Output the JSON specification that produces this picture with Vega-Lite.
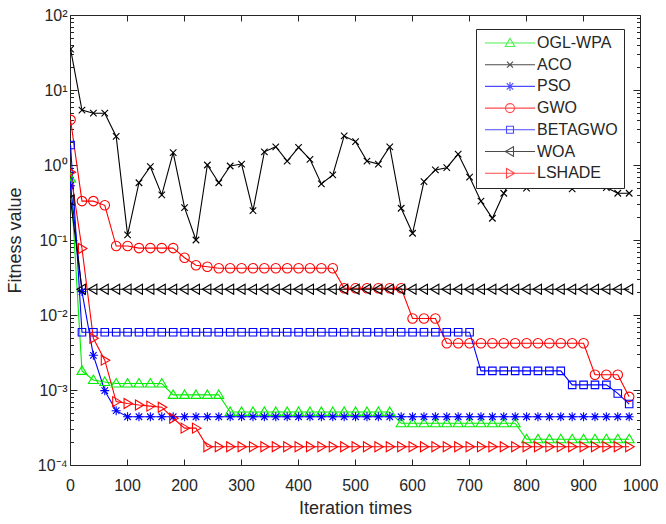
{
  "$schema": "https://vega.github.io/schema/vega-lite/v6.json",
  "width": 570,
  "height": 450,
  "autosize": "none",
  "padding": {"left": 70, "top": 15, "right": 26, "bottom": 59},
  "background": "white",
  "config": {
    "view": {"stroke": "#262626", "strokeWidth": 1},
    "font": "Liberation Sans",
    "axis": {"domain": false, "grid": false, "labelFont": "Liberation Sans", "labelFontSize": 16, "labelColor": "#262626", "tickColor": "#262626", "tickWidth": 1, "titleFont": "Liberation Sans", "titleFontSize": 18, "titleFontWeight": "normal", "titleColor": "#262626"}
  },
  "datasets": {
    "c": [
      {"s":"OGL-WPA","i":1,"v":0.66},{"s":"OGL-WPA","i":21,"v":0.0018},{"s":"OGL-WPA","i":41,"v":0.00136},{"s":"OGL-WPA","i":61,"v":0.00128},{"s":"OGL-WPA","i":81,"v":0.00122},{"s":"OGL-WPA","i":101,"v":0.00122},{"s":"OGL-WPA","i":121,"v":0.00122},{"s":"OGL-WPA","i":141,"v":0.00122},{"s":"OGL-WPA","i":161,"v":0.00122},{"s":"OGL-WPA","i":181,"v":0.00086},{"s":"OGL-WPA","i":201,"v":0.00086},{"s":"OGL-WPA","i":221,"v":0.00086},{"s":"OGL-WPA","i":241,"v":0.00086},{"s":"OGL-WPA","i":261,"v":0.00086},{"s":"OGL-WPA","i":281,"v":0.00051},{"s":"OGL-WPA","i":301,"v":0.00051},{"s":"OGL-WPA","i":321,"v":0.00051},{"s":"OGL-WPA","i":341,"v":0.00051},{"s":"OGL-WPA","i":361,"v":0.00051},{"s":"OGL-WPA","i":381,"v":0.00051},{"s":"OGL-WPA","i":401,"v":0.00051},{"s":"OGL-WPA","i":421,"v":0.00051},{"s":"OGL-WPA","i":441,"v":0.00051},{"s":"OGL-WPA","i":461,"v":0.00051},{"s":"OGL-WPA","i":481,"v":0.00051},{"s":"OGL-WPA","i":501,"v":0.00051},{"s":"OGL-WPA","i":521,"v":0.00051},{"s":"OGL-WPA","i":541,"v":0.00051},{"s":"OGL-WPA","i":561,"v":0.00051},{"s":"OGL-WPA","i":581,"v":0.00036},{"s":"OGL-WPA","i":601,"v":0.00036},{"s":"OGL-WPA","i":621,"v":0.00036},{"s":"OGL-WPA","i":641,"v":0.00036},{"s":"OGL-WPA","i":661,"v":0.00036},{"s":"OGL-WPA","i":681,"v":0.00036},{"s":"OGL-WPA","i":701,"v":0.00036},{"s":"OGL-WPA","i":721,"v":0.00036},{"s":"OGL-WPA","i":741,"v":0.00036},{"s":"OGL-WPA","i":761,"v":0.00036},{"s":"OGL-WPA","i":781,"v":0.00036},{"s":"OGL-WPA","i":801,"v":0.00022},{"s":"OGL-WPA","i":821,"v":0.00022},{"s":"OGL-WPA","i":841,"v":0.00022},{"s":"OGL-WPA","i":861,"v":0.00022},{"s":"OGL-WPA","i":881,"v":0.00022},{"s":"OGL-WPA","i":901,"v":0.00022},{"s":"OGL-WPA","i":921,"v":0.00022},{"s":"OGL-WPA","i":941,"v":0.00022},{"s":"OGL-WPA","i":961,"v":0.00022},{"s":"OGL-WPA","i":981,"v":0.00022},
      {"s":"ACO","i":1,"v":35},{"s":"ACO","i":21,"v":5.4},{"s":"ACO","i":41,"v":4.9},{"s":"ACO","i":61,"v":4.9},{"s":"ACO","i":81,"v":2.4},{"s":"ACO","i":101,"v":0.117},{"s":"ACO","i":121,"v":0.58},{"s":"ACO","i":141,"v":0.95},{"s":"ACO","i":161,"v":0.4},{"s":"ACO","i":181,"v":1.46},{"s":"ACO","i":201,"v":0.27},{"s":"ACO","i":221,"v":0.1},{"s":"ACO","i":241,"v":1.0},{"s":"ACO","i":261,"v":0.58},{"s":"ACO","i":281,"v":0.97},{"s":"ACO","i":301,"v":1.03},{"s":"ACO","i":321,"v":0.246},{"s":"ACO","i":341,"v":1.5},{"s":"ACO","i":361,"v":1.75},{"s":"ACO","i":381,"v":1.13},{"s":"ACO","i":401,"v":1.72},{"s":"ACO","i":421,"v":1.19},{"s":"ACO","i":441,"v":0.56},{"s":"ACO","i":461,"v":0.74},{"s":"ACO","i":481,"v":2.44},{"s":"ACO","i":501,"v":2.05},{"s":"ACO","i":521,"v":1.13},{"s":"ACO","i":541,"v":1.03},{"s":"ACO","i":561,"v":1.75},{"s":"ACO","i":581,"v":0.265},{"s":"ACO","i":601,"v":0.123},{"s":"ACO","i":621,"v":0.6},{"s":"ACO","i":641,"v":0.86},{"s":"ACO","i":661,"v":0.92},{"s":"ACO","i":681,"v":1.4},{"s":"ACO","i":701,"v":0.69},{"s":"ACO","i":721,"v":0.33},{"s":"ACO","i":741,"v":0.195},{"s":"ACO","i":761,"v":0.42},{"s":"ACO","i":781,"v":0.8},{"s":"ACO","i":801,"v":0.49},{"s":"ACO","i":821,"v":0.9},{"s":"ACO","i":841,"v":0.75},{"s":"ACO","i":861,"v":1.1},{"s":"ACO","i":881,"v":0.48},{"s":"ACO","i":901,"v":0.8},{"s":"ACO","i":921,"v":0.7},{"s":"ACO","i":941,"v":0.5},{"s":"ACO","i":961,"v":0.42},{"s":"ACO","i":981,"v":0.42},
      {"s":"PSO","i":1,"v":0.53},{"s":"PSO","i":21,"v":0.0205},{"s":"PSO","i":41,"v":0.0029},{"s":"PSO","i":61,"v":0.00098},{"s":"PSO","i":81,"v":0.00053},{"s":"PSO","i":101,"v":0.00044},{"s":"PSO","i":121,"v":0.00044},{"s":"PSO","i":141,"v":0.00044},{"s":"PSO","i":161,"v":0.00044},{"s":"PSO","i":181,"v":0.00044},{"s":"PSO","i":201,"v":0.00044},{"s":"PSO","i":221,"v":0.00044},{"s":"PSO","i":241,"v":0.00044},{"s":"PSO","i":261,"v":0.00044},{"s":"PSO","i":281,"v":0.00044},{"s":"PSO","i":301,"v":0.00044},{"s":"PSO","i":321,"v":0.00044},{"s":"PSO","i":341,"v":0.00044},{"s":"PSO","i":361,"v":0.00044},{"s":"PSO","i":381,"v":0.00044},{"s":"PSO","i":401,"v":0.00044},{"s":"PSO","i":421,"v":0.00044},{"s":"PSO","i":441,"v":0.00044},{"s":"PSO","i":461,"v":0.00044},{"s":"PSO","i":481,"v":0.00044},{"s":"PSO","i":501,"v":0.00044},{"s":"PSO","i":521,"v":0.00044},{"s":"PSO","i":541,"v":0.00044},{"s":"PSO","i":561,"v":0.00044},{"s":"PSO","i":581,"v":0.00044},{"s":"PSO","i":601,"v":0.00044},{"s":"PSO","i":621,"v":0.00044},{"s":"PSO","i":641,"v":0.00044},{"s":"PSO","i":661,"v":0.00044},{"s":"PSO","i":681,"v":0.00044},{"s":"PSO","i":701,"v":0.00044},{"s":"PSO","i":721,"v":0.00044},{"s":"PSO","i":741,"v":0.00044},{"s":"PSO","i":761,"v":0.00044},{"s":"PSO","i":781,"v":0.00044},{"s":"PSO","i":801,"v":0.00044},{"s":"PSO","i":821,"v":0.00044},{"s":"PSO","i":841,"v":0.00044},{"s":"PSO","i":861,"v":0.00044},{"s":"PSO","i":881,"v":0.00044},{"s":"PSO","i":901,"v":0.00044},{"s":"PSO","i":921,"v":0.00044},{"s":"PSO","i":941,"v":0.00044},{"s":"PSO","i":961,"v":0.00044},{"s":"PSO","i":981,"v":0.00044},
      {"s":"GWO","i":1,"v":4.0},{"s":"GWO","i":21,"v":0.33},{"s":"GWO","i":41,"v":0.33},{"s":"GWO","i":61,"v":0.29},{"s":"GWO","i":81,"v":0.083},{"s":"GWO","i":101,"v":0.083},{"s":"GWO","i":121,"v":0.078},{"s":"GWO","i":141,"v":0.078},{"s":"GWO","i":161,"v":0.078},{"s":"GWO","i":181,"v":0.078},{"s":"GWO","i":201,"v":0.058},{"s":"GWO","i":221,"v":0.046},{"s":"GWO","i":241,"v":0.044},{"s":"GWO","i":261,"v":0.042},{"s":"GWO","i":281,"v":0.042},{"s":"GWO","i":301,"v":0.042},{"s":"GWO","i":321,"v":0.042},{"s":"GWO","i":341,"v":0.042},{"s":"GWO","i":361,"v":0.042},{"s":"GWO","i":381,"v":0.042},{"s":"GWO","i":401,"v":0.042},{"s":"GWO","i":421,"v":0.042},{"s":"GWO","i":441,"v":0.042},{"s":"GWO","i":461,"v":0.042},{"s":"GWO","i":481,"v":0.0227},{"s":"GWO","i":501,"v":0.0227},{"s":"GWO","i":521,"v":0.0227},{"s":"GWO","i":541,"v":0.0227},{"s":"GWO","i":561,"v":0.0227},{"s":"GWO","i":581,"v":0.0227},{"s":"GWO","i":601,"v":0.009},{"s":"GWO","i":621,"v":0.009},{"s":"GWO","i":641,"v":0.009},{"s":"GWO","i":661,"v":0.0042},{"s":"GWO","i":681,"v":0.0042},{"s":"GWO","i":701,"v":0.0042},{"s":"GWO","i":721,"v":0.0042},{"s":"GWO","i":741,"v":0.0042},{"s":"GWO","i":761,"v":0.0042},{"s":"GWO","i":781,"v":0.0042},{"s":"GWO","i":801,"v":0.0042},{"s":"GWO","i":821,"v":0.0042},{"s":"GWO","i":841,"v":0.0042},{"s":"GWO","i":861,"v":0.0042},{"s":"GWO","i":881,"v":0.0042},{"s":"GWO","i":901,"v":0.0042},{"s":"GWO","i":921,"v":0.0016},{"s":"GWO","i":941,"v":0.0016},{"s":"GWO","i":961,"v":0.0016},{"s":"GWO","i":981,"v":0.00081},
      {"s":"BETAGWO","i":1,"v":1.85},{"s":"BETAGWO","i":21,"v":0.0059},{"s":"BETAGWO","i":41,"v":0.0059},{"s":"BETAGWO","i":61,"v":0.0059},{"s":"BETAGWO","i":81,"v":0.0059},{"s":"BETAGWO","i":101,"v":0.0059},{"s":"BETAGWO","i":121,"v":0.0059},{"s":"BETAGWO","i":141,"v":0.0059},{"s":"BETAGWO","i":161,"v":0.0059},{"s":"BETAGWO","i":181,"v":0.0059},{"s":"BETAGWO","i":201,"v":0.0059},{"s":"BETAGWO","i":221,"v":0.0059},{"s":"BETAGWO","i":241,"v":0.0059},{"s":"BETAGWO","i":261,"v":0.0059},{"s":"BETAGWO","i":281,"v":0.0059},{"s":"BETAGWO","i":301,"v":0.0059},{"s":"BETAGWO","i":321,"v":0.0059},{"s":"BETAGWO","i":341,"v":0.0059},{"s":"BETAGWO","i":361,"v":0.0059},{"s":"BETAGWO","i":381,"v":0.0059},{"s":"BETAGWO","i":401,"v":0.0059},{"s":"BETAGWO","i":421,"v":0.0059},{"s":"BETAGWO","i":441,"v":0.0059},{"s":"BETAGWO","i":461,"v":0.0059},{"s":"BETAGWO","i":481,"v":0.0059},{"s":"BETAGWO","i":501,"v":0.0059},{"s":"BETAGWO","i":521,"v":0.0059},{"s":"BETAGWO","i":541,"v":0.0059},{"s":"BETAGWO","i":561,"v":0.0059},{"s":"BETAGWO","i":581,"v":0.0059},{"s":"BETAGWO","i":601,"v":0.0059},{"s":"BETAGWO","i":621,"v":0.0059},{"s":"BETAGWO","i":641,"v":0.0059},{"s":"BETAGWO","i":661,"v":0.0059},{"s":"BETAGWO","i":681,"v":0.0059},{"s":"BETAGWO","i":701,"v":0.0059},{"s":"BETAGWO","i":721,"v":0.0018},{"s":"BETAGWO","i":741,"v":0.0018},{"s":"BETAGWO","i":761,"v":0.0018},{"s":"BETAGWO","i":781,"v":0.0018},{"s":"BETAGWO","i":801,"v":0.0018},{"s":"BETAGWO","i":821,"v":0.0018},{"s":"BETAGWO","i":841,"v":0.0018},{"s":"BETAGWO","i":861,"v":0.0018},{"s":"BETAGWO","i":881,"v":0.00117},{"s":"BETAGWO","i":901,"v":0.00117},{"s":"BETAGWO","i":921,"v":0.00117},{"s":"BETAGWO","i":941,"v":0.00117},{"s":"BETAGWO","i":961,"v":0.0009},{"s":"BETAGWO","i":981,"v":0.00065},
      {"s":"WOA","i":1,"v":0.34},{"s":"WOA","i":21,"v":0.022},{"s":"WOA","i":41,"v":0.022},{"s":"WOA","i":61,"v":0.022},{"s":"WOA","i":81,"v":0.022},{"s":"WOA","i":101,"v":0.022},{"s":"WOA","i":121,"v":0.022},{"s":"WOA","i":141,"v":0.022},{"s":"WOA","i":161,"v":0.022},{"s":"WOA","i":181,"v":0.022},{"s":"WOA","i":201,"v":0.022},{"s":"WOA","i":221,"v":0.022},{"s":"WOA","i":241,"v":0.022},{"s":"WOA","i":261,"v":0.022},{"s":"WOA","i":281,"v":0.022},{"s":"WOA","i":301,"v":0.022},{"s":"WOA","i":321,"v":0.022},{"s":"WOA","i":341,"v":0.022},{"s":"WOA","i":361,"v":0.022},{"s":"WOA","i":381,"v":0.022},{"s":"WOA","i":401,"v":0.022},{"s":"WOA","i":421,"v":0.022},{"s":"WOA","i":441,"v":0.022},{"s":"WOA","i":461,"v":0.022},{"s":"WOA","i":481,"v":0.022},{"s":"WOA","i":501,"v":0.022},{"s":"WOA","i":521,"v":0.022},{"s":"WOA","i":541,"v":0.022},{"s":"WOA","i":561,"v":0.022},{"s":"WOA","i":581,"v":0.022},{"s":"WOA","i":601,"v":0.022},{"s":"WOA","i":621,"v":0.022},{"s":"WOA","i":641,"v":0.022},{"s":"WOA","i":661,"v":0.022},{"s":"WOA","i":681,"v":0.022},{"s":"WOA","i":701,"v":0.022},{"s":"WOA","i":721,"v":0.022},{"s":"WOA","i":741,"v":0.022},{"s":"WOA","i":761,"v":0.022},{"s":"WOA","i":781,"v":0.022},{"s":"WOA","i":801,"v":0.022},{"s":"WOA","i":821,"v":0.022},{"s":"WOA","i":841,"v":0.022},{"s":"WOA","i":861,"v":0.022},{"s":"WOA","i":881,"v":0.022},{"s":"WOA","i":901,"v":0.022},{"s":"WOA","i":921,"v":0.022},{"s":"WOA","i":941,"v":0.022},{"s":"WOA","i":961,"v":0.022},{"s":"WOA","i":981,"v":0.022},
      {"s":"LSHADE","i":1,"v":0.8},{"s":"LSHADE","i":21,"v":0.077},{"s":"LSHADE","i":41,"v":0.0049},{"s":"LSHADE","i":61,"v":0.0025},{"s":"LSHADE","i":81,"v":0.0007},{"s":"LSHADE","i":101,"v":0.00066},{"s":"LSHADE","i":121,"v":0.00063},{"s":"LSHADE","i":141,"v":0.00061},{"s":"LSHADE","i":161,"v":0.00059},{"s":"LSHADE","i":181,"v":0.00042},{"s":"LSHADE","i":201,"v":0.00031},{"s":"LSHADE","i":221,"v":0.00031},{"s":"LSHADE","i":241,"v":0.000175},{"s":"LSHADE","i":261,"v":0.000175},{"s":"LSHADE","i":281,"v":0.000175},{"s":"LSHADE","i":301,"v":0.000175},{"s":"LSHADE","i":321,"v":0.000175},{"s":"LSHADE","i":341,"v":0.000175},{"s":"LSHADE","i":361,"v":0.000175},{"s":"LSHADE","i":381,"v":0.000175},{"s":"LSHADE","i":401,"v":0.000175},{"s":"LSHADE","i":421,"v":0.000175},{"s":"LSHADE","i":441,"v":0.000175},{"s":"LSHADE","i":461,"v":0.000175},{"s":"LSHADE","i":481,"v":0.000175},{"s":"LSHADE","i":501,"v":0.000175},{"s":"LSHADE","i":521,"v":0.000175},{"s":"LSHADE","i":541,"v":0.000175},{"s":"LSHADE","i":561,"v":0.000175},{"s":"LSHADE","i":581,"v":0.000175},{"s":"LSHADE","i":601,"v":0.000175},{"s":"LSHADE","i":621,"v":0.000175},{"s":"LSHADE","i":641,"v":0.000175},{"s":"LSHADE","i":661,"v":0.000175},{"s":"LSHADE","i":681,"v":0.000175},{"s":"LSHADE","i":701,"v":0.000175},{"s":"LSHADE","i":721,"v":0.000175},{"s":"LSHADE","i":741,"v":0.000175},{"s":"LSHADE","i":761,"v":0.000175},{"s":"LSHADE","i":781,"v":0.000175},{"s":"LSHADE","i":801,"v":0.000175},{"s":"LSHADE","i":821,"v":0.000175},{"s":"LSHADE","i":841,"v":0.000175},{"s":"LSHADE","i":861,"v":0.000175},{"s":"LSHADE","i":881,"v":0.000175},{"s":"LSHADE","i":901,"v":0.000175},{"s":"LSHADE","i":921,"v":0.000175},{"s":"LSHADE","i":941,"v":0.000175},{"s":"LSHADE","i":961,"v":0.000175},{"s":"LSHADE","i":981,"v":0.000175}
    ]
  },
  "data": {"name": "c"},
  "layer": [
    {
      "mark": {"type": "line", "strokeWidth": 1.1, "clip": true},
      "encoding": {
        "x": {"field": "i", "type": "quantitative", "scale": {"domain": [0, 1000], "nice": false, "zero": false},
              "axis": {"orient": "bottom", "values": [0,100,200,300,400,500,600,700,800,900,1000], "format": "d", "tickSize": -6, "labelPadding": 18, "labelFlush": false, "labelOverlap": false, "title": "Iteration times", "titlePadding": 6}},
        "y": {"field": "v", "type": "quantitative", "scale": {"type": "log", "domain": [0.0001, 100], "nice": false},
              "axis": {"orient": "left", "values": [0.0001,0.001,0.01,0.1,1,10,100], "tickSize": -7, "labelPadding": 10, "labelOverlap": false, "labelFlush": false,
                       "labelExpr": "datum.value >= 50 ? '10²' : datum.value >= 5 ? '10¹' : datum.value >= 0.5 ? '10⁰' : datum.value >= 0.05 ? '10⁻¹' : datum.value >= 0.005 ? '10⁻²' : datum.value >= 0.0005 ? '10⁻³' : '10⁻⁴'",
                       "title": "Fitness value", "titlePadding": 13}},
        "color": {"field": "s", "type": "nominal", "scale": {"domain": ["OGL-WPA","ACO","PSO","GWO","BETAGWO","WOA","LSHADE"], "range": ["#00ee00","#000000","#0000ff","#ff0000","#0000ff","#000000","#ff0000"]}, "legend": null}
      }
    },
    {
      "mark": {"type": "point", "filled": false, "size": 100, "strokeWidth": 1.1, "opacity": 1, "clip": true},
      "encoding": {
        "x": {"field": "i", "type": "quantitative", "axis": {"orient": "top", "values": [0,100,200,300,400,500,600,700,800,900,1000], "tickSize": -6, "labels": false, "title": null}},
        "y": {"field": "v", "type": "quantitative", "axis": {"orient": "right", "values": [0.0001,0.001,0.01,0.1,1,10,100], "tickSize": -7, "labels": false, "title": null}},
        "color": {"field": "s", "type": "nominal", "scale": {"domain": ["OGL-WPA","ACO","PSO","GWO","BETAGWO","WOA","LSHADE"], "range": ["#00ee00","#000000","#0000ff","#ff0000","#0000ff","#000000","#ff0000"]}, "legend": null},
        "shape": {"field": "s", "type": "nominal", "scale": {"domain": ["OGL-WPA","ACO","PSO","GWO","BETAGWO","WOA","LSHADE"], "range": [
          "M0,-1L1,0.7L-1,0.7Z",
          "M-0.65,-0.65L0.65,0.65M-0.65,0.65L0.65,-0.65",
          "M0,-0.9L0,0.9M-0.9,0L0.9,0M-0.65,-0.65L0.65,0.65M-0.65,0.65L0.65,-0.65",
          "M0.95,0A0.95,0.95 0 1,1 -0.95,0A0.95,0.95 0 1,1 0.95,0",
          "M-0.75,-0.75L0.75,-0.75L0.75,0.75L-0.75,0.75Z",
          "M-1,0L0.7,-1L0.7,1Z",
          "M1,0L-0.7,-1L-0.7,1Z"]}, "legend": null}
      }
    },
    {
      "transform": [{"filter": "datum.i < 0"}],
      "mark": {"type": "point", "filled": false, "size": 100, "strokeWidth": 1.1},
      "encoding": {
        "x": {"field": "i", "type": "quantitative", "axis": null},
        "y": {"field": "v", "type": "quantitative", "axis": {"orient": "left", "values": [0.0002,0.0003,0.0004,0.0005,0.0006,0.0007,0.0008,0.0009,0.002,0.003,0.004,0.005,0.006,0.007,0.008,0.009,0.02,0.03,0.04,0.05,0.06,0.07,0.08,0.09,0.2,0.3,0.4,0.5,0.6,0.7,0.8,0.9,2,3,4,5,6,7,8,9,20,30,40,50,60,70,80,90], "tickSize": -3.5, "labels": false, "title": null}},
        "color": {"field": "s", "type": "nominal", "scale": {"domain": ["OGL-WPA","ACO","PSO","GWO","BETAGWO","WOA","LSHADE"], "range": ["#00ee00","#000000","#0000ff","#ff0000","#0000ff","#000000","#ff0000"]},
                  "legend": {"title": null, "orient": "none", "legendX": 406, "legendY": 14, "padding": 6, "fillColor": "white", "strokeColor": "#262626", "symbolSize": 100, "symbolStrokeWidth": 1.1, "labelFontSize": 16, "labelFont": "Liberation Sans", "labelColor": "#262626", "labelOffset": 39, "rowPadding": 5.7}},
        "shape": {"field": "s", "type": "nominal", "scale": {"domain": ["OGL-WPA","ACO","PSO","GWO","BETAGWO","WOA","LSHADE"], "range": [
          "M-1,0L9,0M4,-0.95L4.95,0.7L3.05,0.7Z",
          "M-1,0L9,0M3.4,-0.6L4.6,0.6M3.4,0.6L4.6,-0.6",
          "M-1,0L9,0M4,-0.9L4,0.9M3.35,-0.65L4.65,0.65M3.35,0.65L4.65,-0.65",
          "M-1,0L9,0M4.9,0A0.9,0.9 0 1,1 3.1,0A0.9,0.9 0 1,1 4.9,0",
          "M-1,0L9,0M3.3,-0.7L4.7,-0.7L4.7,0.7L3.3,0.7Z",
          "M-1,0L9,0M3.05,0L4.7,-0.95L4.7,0.95Z",
          "M-1,0L9,0M4.95,0L3.3,-0.95L3.3,0.95Z"]},
                  "legend": {"title": null, "orient": "none", "legendX": 406, "legendY": 14, "padding": 6, "fillColor": "white", "strokeColor": "#262626", "symbolSize": 100, "symbolStrokeWidth": 1.1, "labelFontSize": 16, "labelFont": "Liberation Sans", "labelColor": "#262626", "labelOffset": 39, "rowPadding": 5.7}}
      }
    },
    {
      "transform": [{"filter": "datum.i < 0"}],
      "mark": {"type": "point", "filled": false},
      "encoding": {
        "x": {"field": "i", "type": "quantitative", "axis": null},
        "y": {"field": "v", "type": "quantitative", "axis": {"orient": "right", "values": [0.0002,0.0003,0.0004,0.0005,0.0006,0.0007,0.0008,0.0009,0.002,0.003,0.004,0.005,0.006,0.007,0.008,0.009,0.02,0.03,0.04,0.05,0.06,0.07,0.08,0.09,0.2,0.3,0.4,0.5,0.6,0.7,0.8,0.9,2,3,4,5,6,7,8,9,20,30,40,50,60,70,80,90], "tickSize": -3.5, "labels": false, "title": null}}
      }
    }
  ],
  "resolve": {"scale": {"color": "independent", "shape": "independent"}, "axis": {"x": "independent", "y": "independent"}}
}
